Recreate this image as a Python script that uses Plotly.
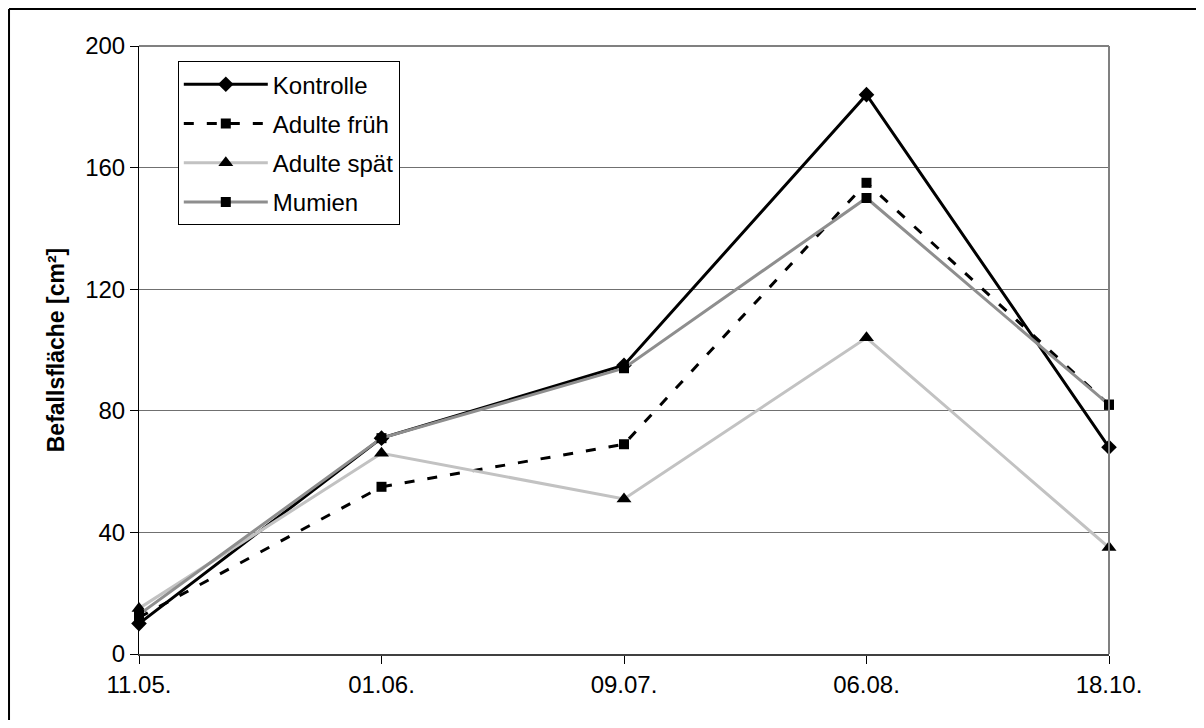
import plotly.graph_objects as go

dates = ["11.05.", "01.06.", "09.07.", "06.08.", "18.10."]
kontrolle = [10, 71, 95, 184, 68]
adulte_frueh = [12, 55, 69, 155, 82]
adulte_spaet = [15, 66, 51, 104, 35]
mumien = [13, 71, 94, 150, 82]
y_ticks = [0, 40, 80, 120, 160, 200]

fig = go.Figure()
series = [
    ("Kontrolle", kontrolle, dict(color="black", width=3, dash="solid"), "diamond", 12),
    ("Adulte früh", adulte_frueh, dict(color="black", width=3, dash="10px,13px"), "square", 10),
    ("Adulte spät", adulte_spaet, dict(color="#c2c2c2", width=3, dash="solid"), "triangle-up", 13),
    ("Mumien", mumien, dict(color="#8e8e8e", width=3, dash="solid"), "square", 10),
]
for i, (name, vals, line, sym, size) in enumerate(series):
    fig.add_trace(go.Scatter(
        x=dates, y=vals, name=name, mode="lines+markers", line=line,
        marker=dict(symbol=sym, size=size, color="black"),
        cliponaxis=False, legendgroup=f"g{i}",
    ))

W, H = 1188, 712
fig.update_layout(
    width=W, height=H,
    margin=dict(l=131, r=87, t=38, b=66),
    paper_bgcolor="white", plot_bgcolor="white",
    font=dict(family="Liberation Sans, Arial, sans-serif", size=24, color="black"),
    showlegend=True,
    legend=dict(
        x=0.04, y=0.975, xanchor="left", yanchor="top",
        bordercolor="black", borderwidth=1, bgcolor="white",
        itemwidth=84, tracegroupgap=5,
        font=dict(size=24),
    ),
    xaxis=dict(
        type="category", range=[0, 4], showgrid=False,
        showline=True, linecolor="#404040", linewidth=2,
        ticks="outside", ticklen=8, tickcolor="black",
        tickfont=dict(size=24), zeroline=False,
    ),
    yaxis=dict(
        range=[0, 200], tickvals=y_ticks,
        showgrid=True, gridcolor="#707070", gridwidth=1,
        showline=True, linecolor="black", linewidth=1,
        ticks="outside", ticklen=8, tickcolor="black",
        tickfont=dict(size=24), zeroline=False,
        title=dict(text="<b>Befallsfläche [cm²]</b>", font=dict(size=23), standoff=14),
    ),
    shapes=[
        dict(type="line", xref="paper", yref="paper", x0=0, x1=1, y0=1, y1=1,
             line=dict(color="#808080", width=2)),
        dict(type="line", xref="paper", yref="paper", x0=1, x1=1, y0=0, y1=1,
             line=dict(color="#808080", width=2)),
        dict(type="line", xref="paper", yref="paper", x0=-0.134, x1=1.2, y0=1.061, y1=1.061,
             line=dict(color="black", width=2)),
        dict(type="line", xref="paper", yref="paper", x0=-0.134, x1=-0.134, y0=-0.2, y1=1.061,
             line=dict(color="black", width=2)),
    ],
)

fig.write_html("out.html")
